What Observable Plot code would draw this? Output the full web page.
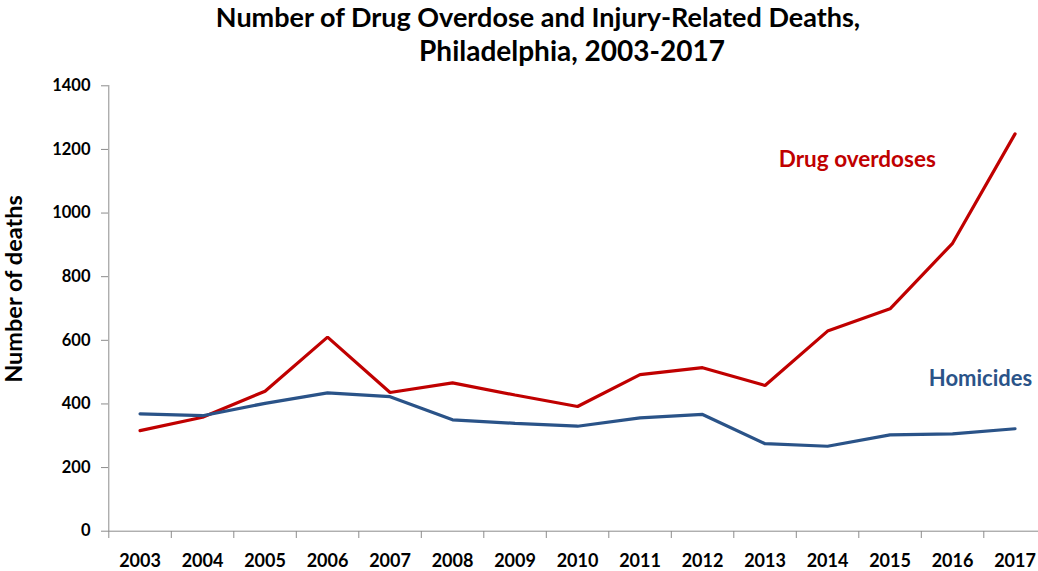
<!DOCTYPE html>
<html>
<head>
<meta charset="utf-8">
<script src="https://cdn.jsdelivr.net/npm/d3@7"></script>
<script src="https://cdn.jsdelivr.net/npm/@observablehq/plot@0.6"></script>
<style>
  html, body { margin: 0; padding: 0; background: #fff; }
  #chart svg { display: block; }
</style>
</head>
<body>
<div id="chart"></div>
<script>
// Deaths per year in Philadelphia
const years = [2003, 2004, 2005, 2006, 2007, 2008, 2009, 2010, 2011, 2012, 2013, 2014, 2015, 2016, 2017];
const overdoses = [316, 358, 440, 610, 436, 466, 428, 392, 492, 514, 458, 629, 699, 905, 1249];
const homicides = [369, 363, 402, 435, 423, 350, 339, 330, 356, 367, 275, 267, 303, 306, 322];
const yTicks = [0, 200, 400, 600, 800, 1000, 1200, 1400];
const seriesNames = ["Drug overdoses", "Homicides"];
const titleLines = ["Number of Drug Overdose and Injury-Related Deaths,", "Philadelphia, 2003-2017"];
const yLabel = "Number of deaths";

const RED = "#C00000";
const BLUE = "#2A5388";
const AXIS = "#8C8C8C";
const FONT = "Lato, 'Open Sans', sans-serif";

// long-format table for the line mark
const rows = years.flatMap((yr, i) => [
  {year: yr, value: overdoses[i], series: seriesNames[0]},
  {year: yr, value: homicides[i], series: seriesNames[1]}
]);

// category boundaries: ticks sit between the years
const bounds = [...years.map(y => y - 0.5), years[years.length - 1] + 0.5];

const chart = Plot.plot({
  width: 1038,
  height: 571,
  marginLeft: 108,
  marginTop: 85,
  marginBottom: 40,
  marginRight: 0,
  x: {type: "linear", domain: [bounds[0], bounds[bounds.length - 1]], range: [108.3, 1045.8]},
  y: {domain: [0, 1400], range: [530.7, 85.3]},
  color: {domain: seriesNames, range: [RED, BLUE]},
  style: {fontFamily: FONT, fontWeight: "bold", color: "#000", background: "#fff", overflow: "visible"},
  marks: [
    Plot.axisY({ticks: yTicks, tickSize: 7, tickPadding: 11, fontSize: 16.5, label: null, tickFormat: d => String(d), stroke: AXIS, fill: "#000"}),
    Plot.axisX({ticks: bounds, tickSize: 7, tickFormat: () => "", label: null, stroke: AXIS}),
    Plot.axisX({ticks: years, tickSize: 0, tickPadding: 23, fontSize: 18, label: null, tickFormat: d => String(d), fill: "#000"}),
    Plot.ruleX([bounds[0]], {stroke: AXIS, strokeWidth: 1}),
    Plot.ruleY([0], {stroke: AXIS, strokeWidth: 1}),
    Plot.lineY(rows, {x: "year", y: "value", stroke: "series", z: "series", strokeWidth: 3.2, strokeLinejoin: "miter"}),
    Plot.text([seriesNames[0]], {x: () => 2013.22, y: () => 1167, text: d => d, fill: RED, fontSize: 22.5, textAnchor: "start"}),
    Plot.text([seriesNames[1]], {x: () => 2015.62, y: () => 477, text: d => d, fill: BLUE, fontSize: 22, textAnchor: "start"})
  ]
});

const svg = d3.select(chart);
svg.append("text")
  .attr("x", 538).attr("y", 27)
  .attr("text-anchor", "middle")
  .attr("font-family", FONT).attr("font-weight", "bold").attr("font-size", 27)
  .attr("fill", "#000")
  .text(titleLines[0]);
svg.append("text")
  .attr("x", 572).attr("y", 61)
  .attr("text-anchor", "middle")
  .attr("font-family", FONT).attr("font-weight", "bold").attr("font-size", 28)
  .attr("fill", "#000")
  .text(titleLines[1]);
svg.append("text")
  .attr("transform", "translate(22,289) rotate(-90)")
  .attr("text-anchor", "middle")
  .attr("font-family", FONT).attr("font-weight", "bold").attr("font-size", 23.5)
  .attr("fill", "#000")
  .text(yLabel);

document.getElementById("chart").appendChild(chart);
</script>
</body>
</html>
